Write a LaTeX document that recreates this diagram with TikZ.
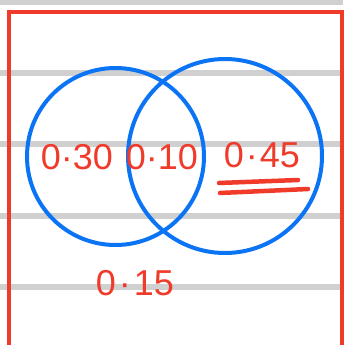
\documentclass[tikz,border=0pt]{standalone}
\usepackage{fontspec}
\setmainfont{Liberation Sans}
\definecolor{penred}{RGB}{240,58,42}
\definecolor{penblue}{RGB}{10,116,245}
\definecolor{ruleline}{RGB}{208,208,208}
\tikzset{
  rule/.style={ruleline, line width=5.5pt},
  margin/.style={penred, line width=4pt},
  setline/.style={penblue, line width=4pt},
  prob/.style={penred, font=\fontsize{36}{36}\selectfont, inner sep=0pt},
  mark45/.style={penred, line width=4.5pt, line cap=round}
}
\begin{document}
\begin{tikzpicture}[x=1pt,y=-1pt]
  \useasboundingbox (0,0) rectangle (343,345);
  % ---------- ruled paper ----------
  \foreach \yy in {2,73,144,216,287}
    \draw[rule] (0,\yy) -- (343,\yy);
  \draw[margin] (8.5,345) -- (8.5,12.5) -- (341.5,12.5) -- (341.5,345);

  % ---------- two sets ----------
  \draw[setline] (115.5,156.5) circle (88.5);
  \draw[setline] (225,156) circle (97);

  % probabilities
  \node[prob] (onlyA) at (77,157) {0·30};
  \node[prob] (both) at (162,157) {0·10};
  \node[prob] (onlyB) at (262,155) {0\kern2pt·\kern2pt45};
  \node[prob] (neither) at (135,283) {0\kern3pt·\kern3pt15};

  % double underline for the answer
  \coordinate (u1s) at (219,183);
  \coordinate (u1e) at (298,180);
  \coordinate (u2s) at (220,193);
  \coordinate (u2e) at (308,189);
  \draw[mark45] (u1s) -- (u1e);
  \draw[mark45] (u2s) -- (u2e);
\end{tikzpicture}
\end{document}
